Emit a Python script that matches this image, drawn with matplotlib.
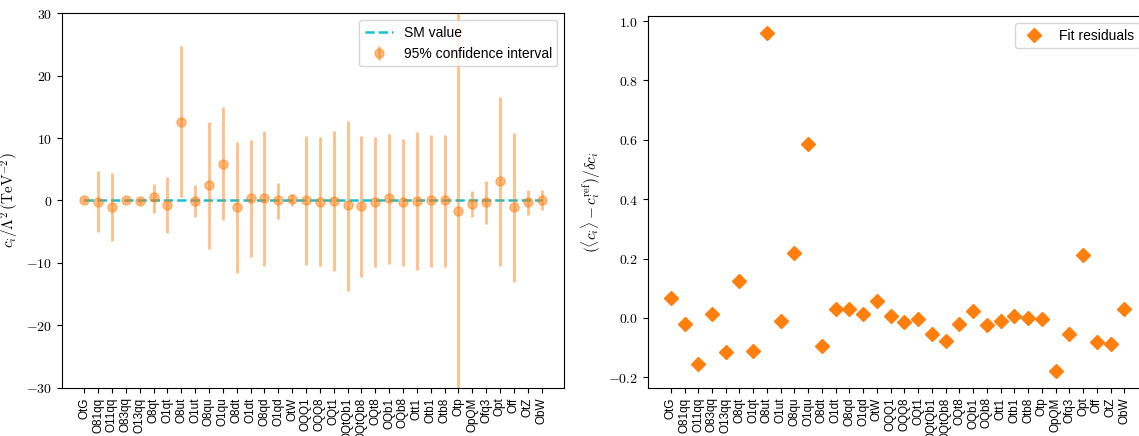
import matplotlib
matplotlib.use("Agg")
import matplotlib.pyplot as plt
from matplotlib.ticker import FuncFormatter
import numpy as np

plt.rcParams['font.family'] = ['Liberation Sans', 'DejaVu Sans']
plt.rcParams['mathtext.fontset'] = 'cm'

# operator names
labels = ['OtG', 'O81qq', 'O11qq', 'O83qq', 'O13qq', 'O8qt', 'O1qt', 'O8ut', 'O1ut',
          'O8qu', 'O1qu', 'O8dt', 'O1dt', 'O8qd', 'O1qd', 'OtW', 'OQQ1', 'OQQ8',
          'OQt1', 'OQtQb1', 'OQtQb8', 'OQt8', 'OQb1', 'OQb8', 'Ott1', 'Otb1', 'Otb8',
          'Otp', 'OpQM', 'Ofq3', 'Opt', 'Off', 'OtZ', 'ObW']

# central values and 95% interval (TeV^-2)
central = [0.05, -0.26, -1.0, 0.05, -0.15, 0.54, -0.69, 12.6, -0.05,
           2.5, 5.9, -1.0, 0.43, 0.43, 0.05, 0.16, 0.05, -0.26,
           -0.05, -0.8, -0.9, -0.26, 0.32, -0.3, -0.1, 0.1, 0.0,
           -1.7, -0.6, -0.26, 3.1, -1.0, -0.3, 0.1]
lower = [-0.3, -5.1, -6.5, -0.3, -0.5, -2.0, -5.2, 0.55, -2.7,
         -7.7, -3.2, -11.6, -9.1, -10.5, -2.9, -0.85, -10.3, -10.5,
         -11.3, -14.5, -12.2, -10.7, -10.2, -10.5, -11.2, -10.6, -10.6,
         -45.0, -2.7, -3.7, -10.5, -13.0, -2.3, -1.6]
upper = [0.4, 4.7, 4.4, 0.4, 0.2, 2.7, 3.8, 24.7, 2.5,
         12.5, 15.0, 9.4, 9.7, 11.1, 2.8, 1.0, 10.3, 10.1,
         11.1, 12.7, 10.3, 10.1, 10.7, 9.9, 10.9, 10.5, 10.5,
         45.0, 1.5, 3.2, 16.6, 10.8, 1.7, 1.7]

# fit residuals
residuals = [0.068, -0.022, -0.155, 0.012, -0.115, 0.125, -0.113, 0.96, -0.01,
             0.218, 0.585, -0.093, 0.03, 0.03, 0.012, 0.058, 0.007, -0.013,
             -0.003, -0.055, -0.077, -0.02, 0.025, -0.025, -0.01, 0.005, 0.0,
             -0.005, -0.178, -0.055, 0.212, -0.08, -0.087, 0.03]

x = np.arange(len(labels))
central = np.array(central)
yerr = [central - np.array(lower), np.array(upper) - central]

fig = plt.figure(figsize=(11.39, 4.36), dpi=100)
ax1 = fig.add_axes([0.0545, 0.1108, 0.4410, 0.8587])
ax2 = fig.add_axes([0.5690, 0.1108, 0.4380, 0.8525])

# left panel
ax1.plot(x, np.zeros(len(x)), '--', color='C9', lw=1.8, label='SM value')
ax1.errorbar(x, central, yerr=yerr, fmt='o', color='C1', alpha=0.5, ms=6.5,
             elinewidth=2, label='95% confidence interval')
ax1.set_ylim(-30, 30)
ax1.set_xlim(-1.6, 34.65)
ax1.set_yticks([-30, -20, -10, 0, 10, 20, 30])
ax1.yaxis.set_major_formatter(FuncFormatter(lambda v, p: f'${v:g}$'))
ax1.set_xticks(x)
ax1.set_xticklabels(labels, rotation=90, fontsize=8.5)
ax1.set_ylabel(r'$c_i/\Lambda^2\,(\mathrm{TeV}^{-2})$', fontsize=11)
ax1.legend(loc='upper right', fontsize=10)

# right panel
ax2.plot(x, residuals, 'D', color='C1', ms=7, ls='none', label='Fit residuals')
ax2.set_ylim(-0.235, 1.017)
ax2.set_xlim(-1.65, 34.65)
ax2.set_yticks([-0.2, 0.0, 0.2, 0.4, 0.6, 0.8, 1.0])
ax2.yaxis.set_major_formatter(FuncFormatter(lambda v, p: f'${v:.1f}$'))
ax2.set_xticks(x)
ax2.set_xticklabels(labels, rotation=90, fontsize=8.5)
ax2.set_ylabel(r'$(\langle c_i\rangle - c_i^{\mathrm{ref}})/\delta c_i$', fontsize=11)
ax2.legend(loc='upper right', fontsize=10)

fig.savefig('out.png', dpi=100)
